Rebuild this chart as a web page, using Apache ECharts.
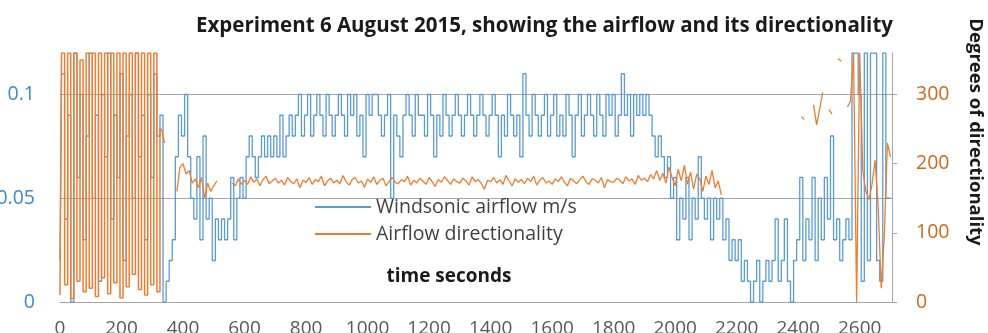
<!DOCTYPE html>
<html>
<head>
<meta charset="utf-8">
<script src="https://cdn.jsdelivr.net/npm/echarts@6/dist/echarts.min.js"></script>
<style>
  html, body { margin: 0; padding: 0; background: #fff; }
  #main { width: 988px; height: 333px; }
</style>
</head>
<body>
<div id="main"></div>
<script>
// 采样间隔（秒），每个数值对应一个时间点
const SAMPLE_STEP = 10;

// 风速 m/s（0 ~ 2700 秒，每 10 秒一个值）
const airflow = [
  0.02, 0.11, 0.04, 0.09, 0, 0.12, 0.06, 0.1, 0.03, 0.08,
  0.12, 0.05, 0.09, 0.01, 0.1, 0.07, 0.12, 0.04, 0.09, 0.06,
  0.11, 0.02, 0.08, 0.1, 0.05, 0.12, 0.07, 0.09, 0.03, 0.1,
  0.06, 0.11, 0.08, 0.09, 0, 0.01, 0.02, 0.03, 0.07, 0.09,
  0.08, 0.1, 0.07, 0.05, 0.04, 0.07, 0.03, 0.08, 0.04, 0.05,
  0.02, 0.04, 0.03, 0.04, 0.03, 0.04, 0.06, 0.03, 0.05, 0.06,
  0.05, 0.07, 0.08, 0.07, 0.06, 0.07, 0.08, 0.07, 0.08, 0.07,
  0.08, 0.07, 0.09, 0.07, 0.08, 0.09, 0.08, 0.09, 0.1, 0.08,
  0.09, 0.1, 0.08, 0.09, 0.1, 0.09, 0.08, 0.1, 0.09, 0.08,
  0.09, 0.1, 0.09, 0.08, 0.1, 0.09, 0.1, 0.08, 0.09, 0.07,
  0.1, 0.09, 0.1, 0.1, 0.09, 0.08, 0.09, 0.1, 0.05, 0.09,
  0.08, 0.07, 0.09, 0.1, 0.09, 0.08, 0.1, 0.09, 0.09, 0.08,
  0.1, 0.09, 0.07, 0.09, 0.08, 0.1, 0.09, 0.08, 0.09, 0.1,
  0.09, 0.08, 0.09, 0.1, 0.09, 0.08, 0.09, 0.1, 0.09, 0.08,
  0.09, 0.1, 0.09, 0.07, 0.09, 0.08, 0.1, 0.09, 0.08, 0.09,
  0.07, 0.11, 0.09, 0.08, 0.1, 0.09, 0.08, 0.09, 0.1, 0.08,
  0.09, 0.1, 0.08, 0.09, 0.08, 0.1, 0.09, 0.07, 0.09, 0.1,
  0.08, 0.09, 0.1, 0.09, 0.08, 0.1, 0.09, 0.08, 0.1, 0.09,
  0.1, 0.08, 0.09, 0.11, 0.09, 0.1, 0.08, 0.1, 0.09, 0.1,
  0.09, 0.1, 0.09, 0.08, 0.07, 0.08, 0.07, 0.06, 0.07, 0.05,
  0.06, 0.03, 0.05, 0.04, 0.06, 0.03, 0.05, 0.04, 0.07, 0.05,
  0.04, 0.05, 0.03, 0.05, 0.04, 0.05, 0.03, 0.04, 0.02, 0.03,
  0.02, 0.03, 0.01, 0.02, 0.01, 0, 0.01, 0.02, 0, 0.01,
  0.02, 0.01, 0.02, 0.04, 0.01, 0.02, 0.04, 0.01, 0, 0.02,
  0.03, 0.06, 0.02, 0.04, 0.03, 0.06, 0.02, 0.05, 0.03, 0.06,
  0.04, 0.08, 0.03, 0.04, 0.02, 0.03, 0.04, 0.03, 0.12, 0.12,
  0.1, 0.01, 0.12, 0.02, 0.12, 0.12, 0.02, 0.01, 0.12, 0.05,
  0.05
];

// 风向（度）：开始阶段 0 ~ 330 秒，来回摆动
const directionStart = [
  10, 360, 25, 360, 5, 360, 30, 350, 15, 360,
  20, 360, 8, 360, 35, 360, 12, 360, 28, 360,
  6, 360, 22, 360, 40, 360, 18, 360, 10, 360,
  25, 360, 15, 250
];

// 风向（度）：340 ~ 2700 秒，null 表示没有数据
const direction = [
  230, null, null, null, 160, 195,
  200, 185, 190, 172, 178, 165, 180, 150, 172, 160,
  168, 175, null, null, null, null, 172, 168, 178, 170,
  176, 170, 181, 173, 178, 168, 177, 182, 171, 175,
  179, 172, 176, 169, 180, 174, 171, 178, 165, 176,
  173, 180, 170, 177, 174, 182, 168, 175, 179, 172,
  176, 171, 183, 174, 169, 177, 180, 172, 175, 166,
  178, 173, 181, 170, 176, 179, 168, 174, 180, 173,
  171, 177, 174, 182, 169, 176, 172, 179, 175, 170,
  180, 174, 167, 177, 173, 181, 176, 170, 178, 174,
  172, 179, 175, 169, 181, 174, 177, 171, 163, 176,
  174, 180, 172, 177, 170, 183, 175, 168, 178, 173,
  177, 171, 179, 174, 182, 169, 176, 180, 172, 175,
  170, 178, 174, 181, 173, 168, 179, 175, 171, 177,
  182, 174, 170, 178, 176, 172, 180, 165, 177, 174,
  173, 179, 176, 171, 181, 175, 178, 170, 183, 176,
  179, 174, 184, 178, 190, 176, 186, 172, 195, 180,
  168, 192, 175, 198, 170, 188, 163, 185, 178, 160,
  182, 170, 190, 165, 175, 155, null, null, null, null,
  null, null, null, null, null, null, null, null, null, null,
  null, null, null, null, null, null, null, null, null, null,
  null, 268, 264, null, null, 285, 256, 280, 303, null,
  278, 272, null, 352, 348, null, 282, 290, 360, 0,
  360, 190, 160, 148, 170, 205, 140, 20, 95, 230,
  210
];

// 坐标轴刻度
const timeTicks = [0, 200, 400, 600, 800, 1000, 1200, 1400, 1600, 1800, 2000, 2200, 2400, 2600];
const airflowTicks = [0, 0.05, 0.1];
const directionTicks = [0, 100, 200, 300];

const airflowData = airflow.map((v, i) => [i * SAMPLE_STEP, v]);
const directionStartData = directionStart.map((v, i) => [i * SAMPLE_STEP, v]);
// 第二段从开始阶段的最后一个点接上
const offset = (directionStart.length - 1) * SAMPLE_STEP;
const directionData = [[offset, directionStart[directionStart.length - 1]]].concat(
  direction.map((v, i) => [offset + (i + 1) * SAMPLE_STEP, v])
);

var myChart = echarts.init(document.getElementById('main'));

const FONT = '"Open Sans", "Noto Sans", sans-serif';
const gridColor = '#a6a6a6';
const blue = '#5b9bd5';
const orange = '#ed7d31';
// 图例用的细线图标
const lineIcon = 'path://M0,0 H56 V2 H0 Z';

var option = {
  animation: false,
  textStyle: { fontFamily: FONT },
  title: {
    text: 'Experiment 6 August 2015, showing the airflow and its directionality',
    left: 191,
    top: 11,
    textStyle: { fontSize: 20.5, fontWeight: 'bold', color: '#1a1a1a', fontFamily: FONT }
  },
  legend: {
    orient: 'vertical',
    left: 310,
    top: 192,
    itemWidth: 56,
    itemHeight: 14,
    itemGap: 7,
    textStyle: { fontSize: 19.5, color: '#404040', fontFamily: FONT },
    data: [
      { name: 'Windsonic airflow m/s', icon: lineIcon },
      { name: 'Airflow directionality', icon: lineIcon }
    ]
  },
  grid: { left: 60, right: 96, top: 53, bottom: 31, containLabel: false, outerBoundsMode: 'none' },
  xAxis: {
    type: 'value',
    min: 0,
    max: 2705,
    interval: 200,
    axisLine: { show: true, lineStyle: { color: gridColor, width: 1 } },
    axisTick: { show: false },
    splitLine: { show: false },
    axisLabel: {
      fontSize: 19,
      color: '#595959',
      margin: 17,
      showMaxLabel: false,
      formatter: function (v) {
        return timeTicks.indexOf(v) >= 0 ? String(v) : '';
      }
    }
  },
  yAxis: [
    {
      type: 'value',
      min: 0,
      max: 0.12,
      interval: 0.05,
      position: 'left',
      axisLine: { show: false },
      axisTick: { show: false },
      splitLine: { show: true, showMinLine: false, showMaxLine: false, lineStyle: { color: gridColor, width: 1 } },
      axisLabel: {
        fontSize: 19.5,
        color: '#3a8ad0',
        margin: 25,
        showMaxLabel: false,
        formatter: function (v) {
          const r = Math.round(v * 100) / 100;
          return airflowTicks.indexOf(r) >= 0 ? String(r) : '';
        }
      }
    },
    {
      type: 'value',
      min: 0,
      max: 360,
      interval: 100,
      position: 'right',
      axisLine: { show: true, lineStyle: { color: gridColor, width: 1 } },
      axisTick: { show: true, length: 5, lineStyle: { color: gridColor }, customValues: directionTicks },
      splitLine: { show: false },
      axisLabel: {
        fontSize: 19.5,
        color: '#d0691f',
        margin: 24,
        customValues: directionTicks
      }
    }
  ],
  graphic: [
    {
      type: 'text',
      x: 449,
      y: 277,
      style: {
        text: 'time seconds',
        font: 'bold 19px ' + FONT,
        fill: '#1a1a1a',
        align: 'center',
        verticalAlign: 'middle'
      }
    },
    {
      type: 'text',
      x: 975,
      y: 132,
      rotation: -Math.PI / 2,
      style: {
        text: 'Degrees of directionality',
        font: 'bold 18.5px ' + FONT,
        fill: '#1a1a1a',
        align: 'center',
        verticalAlign: 'middle'
      }
    }
  ],
  series: [
    {
      name: 'Windsonic airflow m/s',
      type: 'line',
      yAxisIndex: 0,
      symbol: 'none',
      step: 'middle',
      connectNulls: false,
      lineStyle: { color: blue, width: 1.3 },
      itemStyle: { color: blue },
      data: airflowData
    },
    {
      name: 'Airflow directionality',
      type: 'line',
      yAxisIndex: 1,
      symbol: 'none',
      step: 'middle',
      lineStyle: { color: orange, width: 1.5 },
      itemStyle: { color: orange },
      data: directionStartData
    },
    {
      name: 'Airflow directionality',
      type: 'line',
      yAxisIndex: 1,
      symbol: 'none',
      connectNulls: false,
      lineStyle: { color: orange, width: 1.3 },
      itemStyle: { color: orange },
      data: directionData
    }
  ]
};

myChart.setOption(option);
</script>
</body>
</html>
